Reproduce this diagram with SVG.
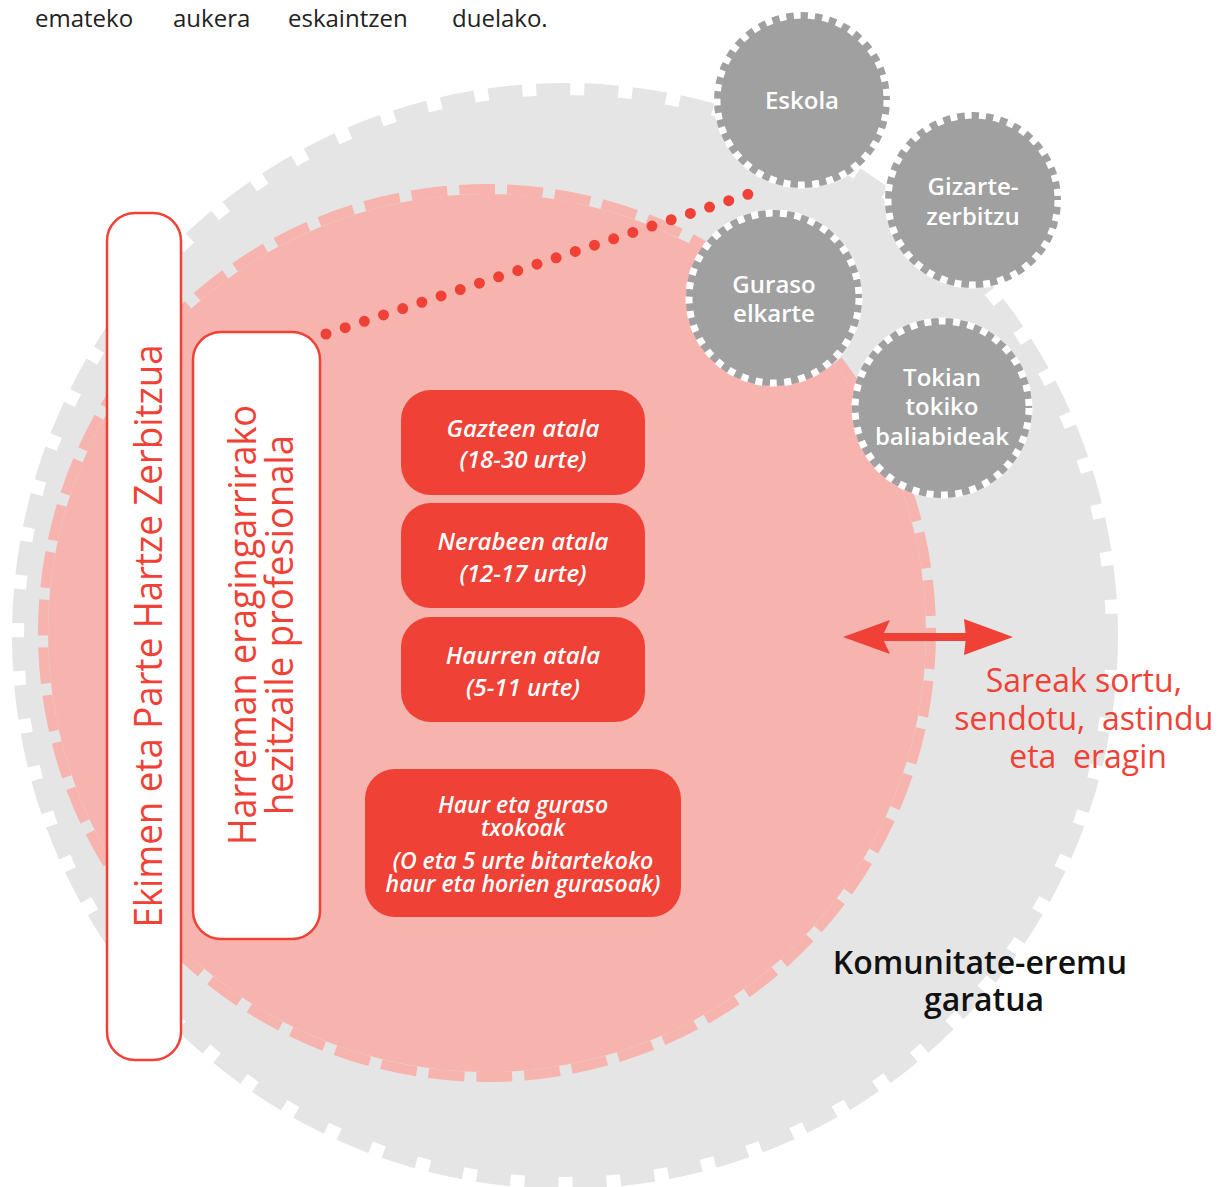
<svg xmlns="http://www.w3.org/2000/svg" width="1232" height="1187" viewBox="0 0 1232 1187">
<style>
.red{fill:#ef4136}
.box{fill:#ef4136}
.frame{fill:#ffffff;stroke:#ef4136;stroke-width:2.5}
.rot{font-family:"Open Sans","Noto Sans",sans-serif;font-size:38px;fill:#ef4136;text-anchor:middle}
.it{font-family:"Open Sans","Noto Sans",sans-serif;font-style:italic;font-weight:600;font-size:24px;fill:#ffffff;text-anchor:middle}
.it2{font-family:"Open Sans","Noto Sans",sans-serif;font-style:italic;font-weight:600;font-size:23px;fill:#ffffff;text-anchor:middle}
.gl{font-family:"Open Sans","Noto Sans",sans-serif;font-weight:600;font-size:24px;fill:#ffffff;text-anchor:middle}
.gc{fill:#a0a0a0}
.gd{fill:none;stroke:#ffffff;stroke-width:7;stroke-dasharray:7 7.5}
.top{font-family:"Open Sans","Noto Sans",sans-serif;font-size:24px;fill:#222222}
</style>
<rect width="1232" height="1187" fill="#ffffff"/>
<text class="top" x="35" y="27">emateko</text>
<text class="top" x="173" y="27">aukera</text>
<text class="top" x="288" y="27">eskaintzen</text>
<text class="top" x="452" y="27">duelako.</text>

<g id="outer-area">
<circle cx="565" cy="636" r="541" fill="#e5e5e5"/>
<circle cx="565" cy="636" r="546" fill="none" stroke="#e5e5e5" stroke-width="14" stroke-dasharray="34 14"/>
</g>
<g id="inner-area">
<circle cx="487" cy="633" r="439" fill="#f7b3ae"/>
<circle cx="487" cy="633" r="444" fill="none" stroke="#f7b3ae" stroke-width="10" stroke-dasharray="36 12"/>
</g>

<g id="connectors">
<line x1="326" y1="334" x2="752" y2="193" stroke="#ef4136" stroke-width="11" stroke-linecap="round" stroke-dasharray="0 20.2"/>
<g id="arrow">
<rect x="880" y="633" width="95" height="8" class="red"/>
<path class="red" d="M843 637 L890 620 L882 637 L890 654 Z"/>
<path class="red" d="M1013 637 L964 619 L966 637 L964 655 Z"/>
</g>
</g>

<g id="eskola">
<circle class="gc" cx="802" cy="100" r="88"/>
<circle class="gd" cx="802" cy="100" r="85"/>
<text class="gl" x="802" y="109">Eskola</text>
</g>
<g id="gizarte">
<circle class="gc" cx="973" cy="200" r="88"/>
<circle class="gd" cx="973" cy="200" r="85"/>
<text class="gl" x="973" y="195">Gizarte-</text>
<text class="gl" x="973" y="225">zerbitzu</text>
</g>
<g id="guraso">
<circle class="gc" cx="774" cy="298" r="88"/>
<circle class="gd" cx="774" cy="298" r="85"/>
<text class="gl" x="774" y="293">Guraso</text>
<text class="gl" x="774" y="322">elkarte</text>
</g>
<g id="tokian">
<circle class="gc" cx="942" cy="408" r="90"/>
<circle class="gd" cx="942" cy="408" r="87"/>
<text class="gl" x="942" y="386">Tokian</text>
<text class="gl" x="942" y="415">tokiko</text>
<text class="gl" x="942" y="445">baliabideak</text>
</g>

<g id="ekimen">
<rect class="frame" x="107" y="213" width="74" height="847" rx="28"/>
<text class="rot" transform="translate(162,636) rotate(-90)" textLength="583" lengthAdjust="spacingAndGlyphs">Ekimen eta Parte Hartze Zerbitzua</text>
</g>
<g id="harreman">
<rect class="frame" x="193" y="332" width="127" height="607" rx="28"/>
<text class="rot" transform="translate(256,625) rotate(-90)" textLength="440" lengthAdjust="spacingAndGlyphs">Harreman eragingarrirako</text>
<text class="rot" transform="translate(293,625) rotate(-90)" textLength="380" lengthAdjust="spacingAndGlyphs">hezitzaile profesionala</text>
</g>

<g id="gazteen">
<rect class="box" x="401" y="390" width="244" height="105" rx="30"/>
<text class="it" x="523" y="437">Gazteen atala</text>
<text class="it" x="523" y="468">(18-30 urte)</text>
</g>
<g id="nerabeen">
<rect class="box" x="401" y="503" width="244" height="105" rx="30"/>
<text class="it" x="523" y="550">Nerabeen atala</text>
<text class="it" x="523" y="582">(12-17 urte)</text>
</g>
<g id="haurren">
<rect class="box" x="401" y="617" width="244" height="105" rx="30"/>
<text class="it" x="523" y="664">Haurren atala</text>
<text class="it" x="523" y="696">(5-11 urte)</text>
</g>
<g id="txokoak">
<rect class="box" x="365" y="769" width="316" height="148" rx="30"/>
<text class="it2" x="523" y="813">Haur eta guraso</text>
<text class="it2" x="523" y="836">txokoak</text>
<text class="it2" x="523" y="869">(O eta 5 urte bitartekoko</text>
<text class="it2" x="523" y="892">haur eta horien gurasoak)</text>
</g>

<g id="sareak">
<text font-family="'Open Sans','Noto Sans',sans-serif" font-size="32" fill="#ef4136" text-anchor="middle">
<tspan x="1088" y="692">Sareak sortu,</tspan>
<tspan x="1088" y="730" xml:space="preserve">sendotu,  astindu</tspan>
<tspan x="1088" y="768" xml:space="preserve">eta  eragin</tspan>
</text>
</g>
<g id="komunitate">
<text font-family="'Open Sans','Noto Sans',sans-serif" font-size="32" font-weight="600" fill="#111111" text-anchor="middle">
<tspan x="984" y="974">Komunitate-eremu</tspan>
<tspan x="984" y="1011">garatua</tspan>
</text>
</g>
</svg>
